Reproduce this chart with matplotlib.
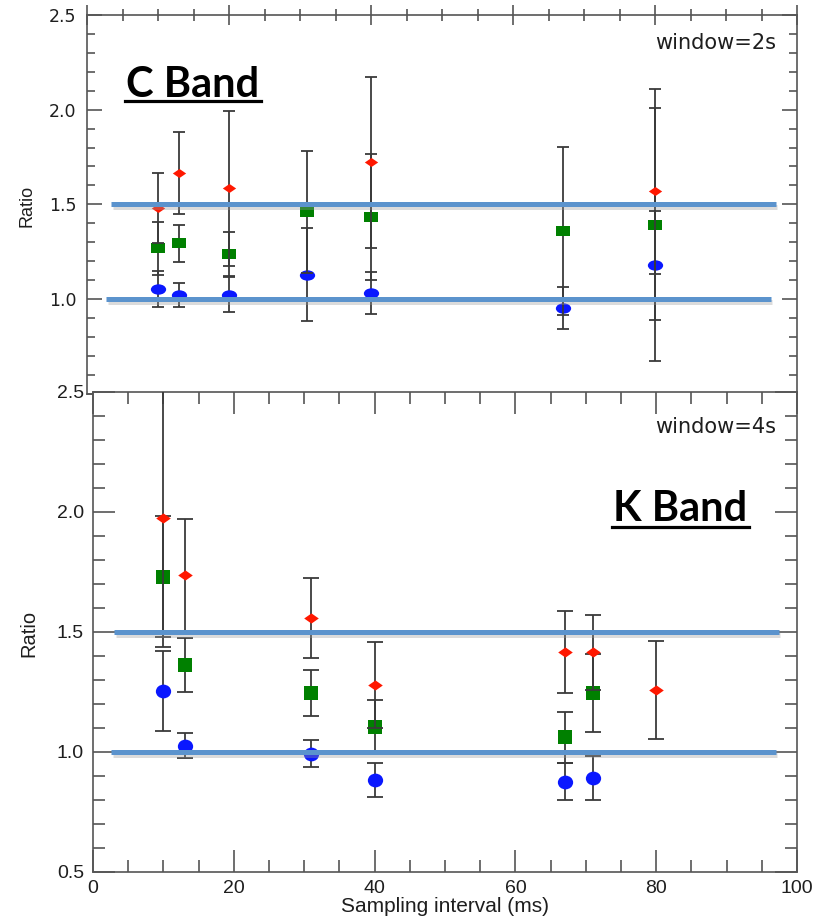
import matplotlib
matplotlib.use("Agg")
import matplotlib.pyplot as plt
import matplotlib.patheffects as pe
from matplotlib.path import Path
from matplotlib.transforms import Affine2D
from matplotlib.ticker import MultipleLocator
from matplotlib.lines import Line2D

# ---------------- data ----------------
# C Band (window = 2 s)
c_red_x = [10, 13, 20, 40, 80]
c_red_y = [1.48, 1.665, 1.585, 1.722, 1.570]
c_red_e = [0.184, 0.215, 0.408, 0.452, 0.437]

c_green_x = [10, 13, 20, 31, 40, 67, 80]
c_green_y = [1.268, 1.294, 1.237, 1.461, 1.434, 1.359, 1.391]
c_green_e = [0.140, 0.097, 0.115, 0.322, 0.332, 0.442, 0.719]

c_blue_x = [10, 13, 20, 31, 40, 67, 80]
c_blue_y = [1.053, 1.021, 1.022, 1.128, 1.030, 0.951, 1.178]
c_blue_e = [0.094, 0.065, 0.093, 0.245, 0.111, 0.110, 0.287]

# K Band (window = 4 s)
k_red_x = [10, 13, 31, 40, 67, 71, 80]
k_red_y = [1.977, 1.738, 1.559, 1.280, 1.417, 1.415, 1.259]
k_red_e = [0.540, 0.232, 0.166, 0.178, 0.170, 0.157, 0.205]

k_green_x = [10, 13, 31, 40, 67, 71]
k_green_y = [1.731, 1.363, 1.246, 1.104, 1.061, 1.246]
k_green_e = [0.252, 0.114, 0.096, 0.114, 0.106, 0.163]

k_blue_x = [10, 13, 31, 40, 67, 71]
k_blue_y = [1.255, 1.027, 0.993, 0.882, 0.877, 0.891]
k_blue_e = [0.167, 0.052, 0.057, 0.071, 0.076, 0.092]

# reference lines (ratio level, x start, x end)
c_ref_levels = [1.5, 1.0]
c_ref_start = [3.4, 2.7]
c_ref_end = [97.0, 96.3]
k_ref_levels = [1.5, 1.0]
k_ref_start = [3.0, 2.6]
k_ref_end = [97.4, 97.0]

x_limits = (0, 100)
y_limits = (0.5, 2.5)
c_yticks = [1.0, 1.5, 2.0, 2.5]
k_yticks = [0.5, 1.0, 1.5, 2.0, 2.5]
k_xticks = [0, 20, 40, 60, 80, 100]

# ---------------- styles ----------------
RED = '#ff1800'
GREEN = '#008000'
BLUE = '#0a18ff'
ERR = '#3a3a3a'
SPINE = '#555555'
REF = '#5b93cd'
TXT = '#1e1e1e'


def ellipse(aspect):
    return Path.unit_circle().transformed(Affine2D().scale(1, aspect))


def rect_marker(aspect):
    return Path([(-1, -aspect), (1, -aspect), (1, aspect), (-1, aspect), (-1, -aspect)],
                [Path.MOVETO, Path.LINETO, Path.LINETO, Path.LINETO, Path.CLOSEPOLY])


def diamond(aspect):
    return Path([(-1, 0), (0, aspect), (1, 0), (0, -aspect), (-1, 0)],
                [Path.MOVETO, Path.LINETO, Path.LINETO, Path.LINETO, Path.CLOSEPOLY])


W, H = 825, 918
fig = plt.figure(figsize=(W / 100, H / 100), dpi=100)
fig.patch.set_facecolor('white')


def rect(l, t, r, b):
    return [l / W, 1 - b / H, (r - l) / W, (b - t) / H]


ax_top = fig.add_axes(rect(87, 15, 797, 393.7))
ax_bot = fig.add_axes(rect(93, 392, 797, 872))
ax_top.set_zorder(1)
ax_bot.set_zorder(2)
ax_bot.set_facecolor('white')

for ax in (ax_top, ax_bot):
    ax.set_xlim(*x_limits)
    ax.set_ylim(*y_limits)
    for s in ax.spines.values():
        s.set_color(SPINE)
        s.set_linewidth(1.2)
    ax.xaxis.set_minor_locator(MultipleLocator(5))
    ax.yaxis.set_minor_locator(MultipleLocator(0.1))

# ---- top panel axes styling ----
ax_top.set_yticks(c_yticks)
ax_top.set_yticklabels([f'{v:.1f}' for v in c_yticks])
ax_top.set_xticks(k_xticks)
ax_top.tick_params(axis='x', which='both', top=True, bottom=False, labelbottom=False,
                   direction='inout', color=SPINE, width=1.2)
ax_top.tick_params(axis='x', which='major', length=14.4)
ax_top.tick_params(axis='x', which='minor', length=8)
ax_top.tick_params(axis='y', which='both', left=True, right=True, direction='in',
                   color=SPINE, width=1.2, pad=7.5)
ax_top.tick_params(axis='y', which='major', length=10.8)
ax_top.tick_params(axis='y', which='minor', length=5.8)
for lab in ax_top.get_yticklabels():
    lab.set_fontfamily('DejaVu Sans')
    lab.set_fontsize(12.5)
    lab.set_color(TXT)

# ---- bottom panel axes styling ----
ax_bot.set_yticks(k_yticks)
ax_bot.set_yticklabels([f'{v:.1f}' for v in k_yticks])
ax_bot.set_xticks(k_xticks)
ax_bot.set_xticklabels([str(v) for v in k_xticks])
ax_bot.tick_params(axis='both', which='both', top=True, right=True, direction='in',
                   color=SPINE, width=1.2)
ax_bot.tick_params(axis='both', which='major', length=16)
ax_bot.tick_params(axis='both', which='minor', length=8.6)
ax_bot.tick_params(axis='y', pad=6.5)
ax_bot.tick_params(axis='x', pad=5.5)
for lab in ax_bot.get_yticklabels() + ax_bot.get_xticklabels():
    lab.set_fontfamily('Liberation Sans')
    lab.set_fontsize(14)
    lab.set_color(TXT)

ax_bot.set_xlabel('Sampling interval (ms)', fontfamily='Liberation Sans', fontsize=15,
                  color=TXT, labelpad=0)

fig.text(27 / W, 1 - 206 / H, 'Ratio', rotation=90, ha='center', va='center',
         fontfamily='Liberation Sans', fontsize=13, color=TXT)
fig.text(29 / W, 1 - 633 / H, 'Ratio', rotation=90, ha='center', va='center',
         fontfamily='Liberation Sans', fontsize=14.5, color=TXT)


# ---- series ----
def draw_series(ax, xs, ys, es, color, marker, ms, capsize, z):
    ax.errorbar(xs, ys, yerr=es, fmt='none', ecolor=ERR, elinewidth=1.3,
                capsize=capsize, capthick=1.3, zorder=z)
    ax.plot(xs, ys, ls='none', marker=marker, markersize=ms, color=color,
            markeredgewidth=0, zorder=z + 0.5)


draw_series(ax_top, c_blue_x, c_blue_y, c_blue_e, BLUE, ellipse(0.68), 11.0, 4.3, 3)
draw_series(ax_top, c_green_x, c_green_y, c_green_e, GREEN, rect_marker(0.72), 10.2, 4.3, 4)
draw_series(ax_top, c_red_x, c_red_y, c_red_e, RED, diamond(0.68), 9.6, 4.3, 5)

draw_series(ax_bot, k_blue_x, k_blue_y, k_blue_e, BLUE, ellipse(0.9), 11.0, 6, 3)
draw_series(ax_bot, k_green_x, k_green_y, k_green_e, GREEN, rect_marker(0.92), 10.2, 6, 4)
draw_series(ax_bot, k_red_x, k_red_y, k_red_e, RED, diamond(0.7), 10.5, 6, 5)

# ---- reference lines with soft shadow ----
shadow = [pe.SimpleLineShadow(offset=(1.0, -2.0), shadow_color='#999999', alpha=0.35),
          pe.Normal()]
for ax, lv, xs, xe in ((ax_top, c_ref_levels, c_ref_start, c_ref_end),
                       (ax_bot, k_ref_levels, k_ref_start, k_ref_end)):
    for level, a, b in zip(lv, xs, xe):
        ax.plot([a, b], [level, level], color=REF, lw=3.6, solid_capstyle='butt',
                zorder=10, path_effects=shadow)

# ---- annotations ----
ax_top.text(0.970, 0.926, 'window=2s', transform=ax_top.transAxes, ha='right',
            va='center', fontfamily='DejaVu Sans', fontsize=15, color=TXT)
ax_bot.text(0.970, 0.9275, 'window=4s', transform=ax_bot.transAxes, ha='right',
            va='center', fontfamily='DejaVu Sans', fontsize=15, color=TXT)

t_c = ax_top.text((126 - 87) / 710, (393.7 - 97) / 378.7, 'C Band', transform=ax_top.transAxes,
                  ha='left', va='baseline', fontfamily='Lato', fontweight='bold',
                  fontsize=30, color='black', zorder=20)
t_k = ax_bot.text((613 - 93) / 704, (872 - 521) / 480, 'K Band', transform=ax_bot.transAxes,
                  ha='left', va='baseline', fontfamily='Lato', fontweight='bold',
                  fontsize=30, color='black', zorder=20)

fig.canvas.draw()
renderer = fig.canvas.get_renderer()
for t, uy in ((t_c, 100.5), (t_k, 526.5)):
    bb = t.get_window_extent(renderer)
    x0 = (bb.x0 - 1) / W
    x1 = (bb.x1 + 2) / W
    yy = 1 - uy / H
    fig.add_artist(Line2D([x0, x1], [yy, yy], transform=fig.transFigure, color='black',
                          lw=2.3, zorder=30))

fig.savefig('out.png', dpi=100, facecolor='white')
